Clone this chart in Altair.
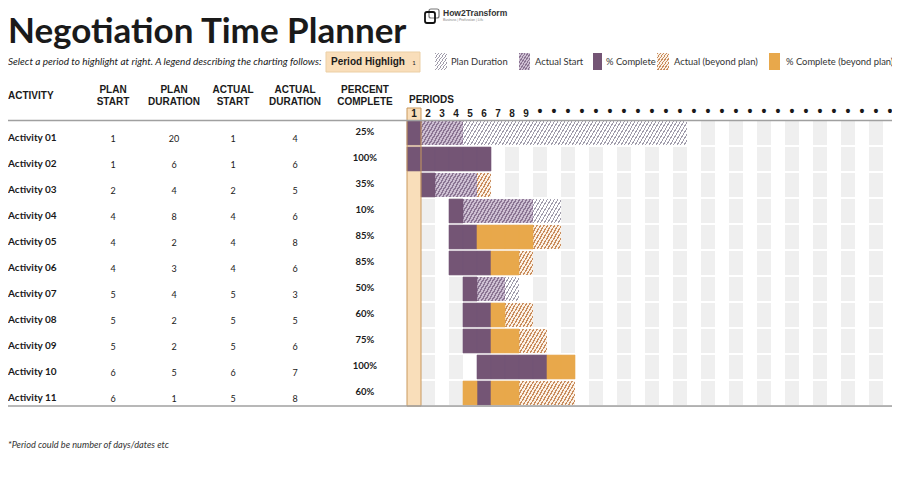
import altair as alt
import pandas as pd

# ---------------- data ----------------
TITLE = "Negotiation Time Planner"
SUBTITLE = "Select a period to highlight at right.  A legend describing the charting follows:"
FOOTNOTE = "*Period could be number of days/dates etc"
HIGHLIGHT_LABEL = "Period Highligh"
HIGHLIGHT_PERIOD = 1

ACTIVITIES = ["Activity 01", "Activity 02", "Activity 03", "Activity 04", "Activity 05",
              "Activity 06", "Activity 07", "Activity 08", "Activity 09", "Activity 10",
              "Activity 11"]
PLAN_START = [1, 1, 2, 4, 4, 4, 5, 5, 5, 6, 6]
PLAN_DURATION = [20, 6, 4, 8, 2, 3, 4, 2, 2, 5, 1]
ACTUAL_START = [1, 1, 2, 4, 4, 4, 5, 5, 5, 6, 5]
ACTUAL_DURATION = [4, 6, 5, 6, 8, 6, 3, 5, 6, 7, 8]
PERCENT_COMPLETE = [25, 100, 35, 10, 85, 85, 50, 60, 75, 100, 60]
PERIODS = list(range(1, 36))

HEADERS = [["PLAN", "START"], ["PLAN", "DURATION"], ["ACTUAL", "START"],
           ["ACTUAL", "DURATION"], ["PERCENT", "COMPLETE"]]
LEGEND_LABELS = ["Plan Duration", "Actual Start", "% Complete",
                 "Actual (beyond plan)", "% Complete (beyond plan)"]

# ---------------- styles ----------------
PURPLE = "#745575"
ORANGE = "#E8A84B"
PEACH = "#F9DEBA"
GRAYCOL = "#EFEFEF"
TXT = "#1a1a1a"
F_UI = "Lato"
F_HDR = "Liberation Sans"

W, H = 485, 286
LEFT = -399


def hatch(bg, line, n=8, lw=0.4):
    stops = []
    for k in range(n):
        a, b, c = k / n, (k + lw) / n, (k + 1) / n
        stops += [{"offset": a, "color": line}, {"offset": b, "color": line},
                  {"offset": b, "color": bg}, {"offset": c, "color": bg}]
    return {"gradient": "linear", "x1": 0, "y1": 0, "x2": 1, "y2": 1, "stops": stops}


FILLS = {
    "plan": hatch("#ffffff", "#a09cab", lw=0.34),
    "actual": hatch("#cdbfd2", "#8b7593", lw=0.45),
    "complete": PURPLE,
    "actual_beyond": hatch("#fbf1e6", "#c98c5c", lw=0.4),
    "complete_beyond": ORANGE,
}

# ---------------- derive cells ----------------
rows = []
for i, a in enumerate(ACTIVITIES):
    ps, pdur = PLAN_START[i], PLAN_DURATION[i]
    ast, adur, pc = ACTUAL_START[i], ACTUAL_DURATION[i], PERCENT_COMPLETE[i]
    done = max(1, (adur * pc) // 100) if pc > 0 else 0
    for p in PERIODS:
        in_plan = ps <= p < ps + pdur
        in_act = ast <= p < ast + adur
        comp = ast <= p < ast + done
        if comp:
            kind = "complete" if in_plan else "complete_beyond"
        elif in_act:
            kind = "actual" if in_plan else "actual_beyond"
        elif in_plan:
            kind = "plan"
        else:
            kind = "none"
        rows.append({"activity": a, "period": p, "kind": kind, "shade": p % 2 == 0})
cells = pd.DataFrame(rows)

table = pd.DataFrame({
    "activity": ACTIVITIES,
    "plan_start": PLAN_START,
    "plan_duration": PLAN_DURATION,
    "actual_start": ACTUAL_START,
    "actual_duration": ACTUAL_DURATION,
    "pct": [f"{v}%" for v in PERCENT_COMPLETE],
})

# 14px columns; the last column runs past the right edge and is cut, as in the original
xscale = alt.Scale(domain=PERIODS, paddingInner=0, paddingOuter=0, range=[0, 490])
yscale = alt.Scale(domain=ACTIVITIES, paddingInner=0.08, paddingOuter=0.04)
xaxis = alt.Axis(orient="top", title=None, domain=False, ticks=False, labelAngle=0,
                 labelFont=F_HDR,
                 labelFontSize={"condition": {"test": "datum.value >= 10", "value": 14},
                                "value": 10},
                 labelFontWeight="bold",
                 labelColor=TXT, labelPadding=2, labelOverlap=False, labelFlush=False,
                 labelExpr="datum.value >= 10 ? '•' : datum.label", grid=False)
X = alt.X("period:O", scale=xscale, axis=xaxis)
Y = alt.Y("activity:N", scale=yscale, axis=None)

base = alt.Chart(cells).encode(x=X, y=Y)
layers = []
layers.append(base.transform_filter("datum.shade").mark_rect(fill=GRAYCOL))

hl = pd.DataFrame({"period": [HIGHLIGHT_PERIOD]})
layers.append(alt.Chart(hl).mark_rect(fill=PEACH).encode(
    x=X, y=alt.value(-12), y2=alt.value(H)))

for k in ["plan", "actual", "actual_beyond"]:
    layers.append(base.transform_filter(f"datum.kind == '{k}'").mark_rect(fill=FILLS[k]))
for k in ["complete", "complete_beyond"]:
    layers.append(base.transform_filter(f"datum.kind == '{k}'").mark_rect(
        fill=FILLS[k], stroke=FILLS[k], strokeWidth=0.6))

layers.append(alt.Chart(hl).mark_rect(fill=PEACH, fillOpacity=0, stroke="#C9995E",
                                      strokeWidth=1).encode(
    x=X, y=alt.value(-12), y2=alt.value(H)))

one = pd.DataFrame({"a": [0]})


def rule(y, color="#a0a0a0", w=1.6):
    return alt.Chart(one).mark_rule(color=color, strokeWidth=w).encode(
        x=alt.value(LEFT), x2=alt.value(W), y=alt.value(y))


layers.append(rule(0.5))
layers.append(rule(H))


def label(text, x, y, size=9.0, weight="normal", style="normal", align="left",
          font=F_UI, color=TXT, baseline="middle"):
    return alt.Chart(pd.DataFrame({"t": [text]})).mark_text(
        align=align, baseline=baseline, font=font, fontSize=size, fontWeight=weight,
        fontStyle=style, color=color).encode(x=alt.value(x), y=alt.value(y), text="t:N")


def box(x, x2, y, y2, **kw):
    return alt.Chart(one).mark_rect(**kw).encode(
        x=alt.value(x), x2=alt.value(x2), y=alt.value(y), y2=alt.value(y2))


# title, subtitle, logo
layers.append(label(TITLE, LEFT, -77, size=35, weight="bold", baseline="alphabetic"))
layers.append(label(SUBTITLE, LEFT, -58, size=10.0, style="italic"))
layers.append(box(22, 32, -111, -102, fill="#fff", fillOpacity=0, stroke="#777",
                  strokeWidth=1.2, cornerRadius=2))
layers.append(box(18, 28, -108, -97, fill="#fff", fillOpacity=0, stroke="#111",
                  strokeWidth=1.8, cornerRadius=2))
layers.append(label("How2Transform", 36, -107, size=8.5, weight="bold", font=F_HDR,
                    color="#333"))
layers.append(label("Business  |  Profession  |  Life", 36, -100, size=3.5, color="#888"))

# period highlight box
layers.append(box(-81, 13, -68, -48, fill=PEACH, stroke="#EBCFA5", strokeWidth=1))
layers.append(label(HIGHLIGHT_LABEL, -76, -58, size=10, weight="bold", font=F_HDR))
layers.append(label(str(HIGHLIGHT_PERIOD), 7, -57, size=6, align="center"))

# legend swatches
sw = [(28, 40, FILLS["plan"]), (112, 123, FILLS["actual"]), (186, 195, FILLS["complete"]),
      (250, 262, FILLS["actual_beyond"]), (362, 373, FILLS["complete_beyond"])]
lx = [44, 128, 199, 267, 379]
for (x0, x1, f), tx, lab in zip(sw, lx, LEGEND_LABELS):
    layers.append(box(x0, x1, -67, -50, fill=f))
    layers.append(label(lab, tx, -58, size=9.4, color="#333"))

# table headers
layers.append(label("ACTIVITY", LEFT, -24, size=10, weight="bold", font=F_HDR))
hx = [-294, -233, -174, -112, -42]
for (l1, l2), cx in zip(HEADERS, hx):
    layers.append(label(l1, cx, -30, size=10, weight="bold", font=F_HDR, align="center"))
    layers.append(label(l2, cx, -18, size=10, weight="bold", font=F_HDR, align="center"))
layers.append(label("PERIODS", 2, -20, size=10, weight="bold", font=F_HDR))

# table body
tb = alt.Chart(table)
layers.append(tb.mark_text(align="left", baseline="middle", font=F_UI, fontSize=10,
                           fontWeight="bold", color=TXT, dy=5).encode(
    y=Y, x=alt.value(LEFT), text="activity:N"))
for col, cx in zip(["plan_start", "plan_duration", "actual_start", "actual_duration"], hx[:4]):
    layers.append(tb.mark_text(align="center", baseline="middle", font=F_UI, fontSize=9,
                               color=TXT, dy=6).encode(y=Y, x=alt.value(cx), text=f"{col}:Q"))
layers.append(tb.mark_text(align="center", baseline="middle", font=F_UI, fontSize=9.5,
                           fontWeight="bold", color=TXT, dy=-1).encode(
    y=Y, x=alt.value(hx[4]), text="pct:N"))

# footnote
layers.append(label(FOOTNOTE, LEFT, 325, size=9.2, style="italic", color="#333"))

chart = alt.layer(*layers).properties(
    width=W, height=H,
    autosize=alt.AutoSizeParams(type="none"),
    padding={"left": 399, "top": 112, "right": 0, "bottom": 66},
).configure_view(strokeWidth=0).configure(background="white")

chart.save("out.html", embed_options={"renderer": "svg", "actions": False})
